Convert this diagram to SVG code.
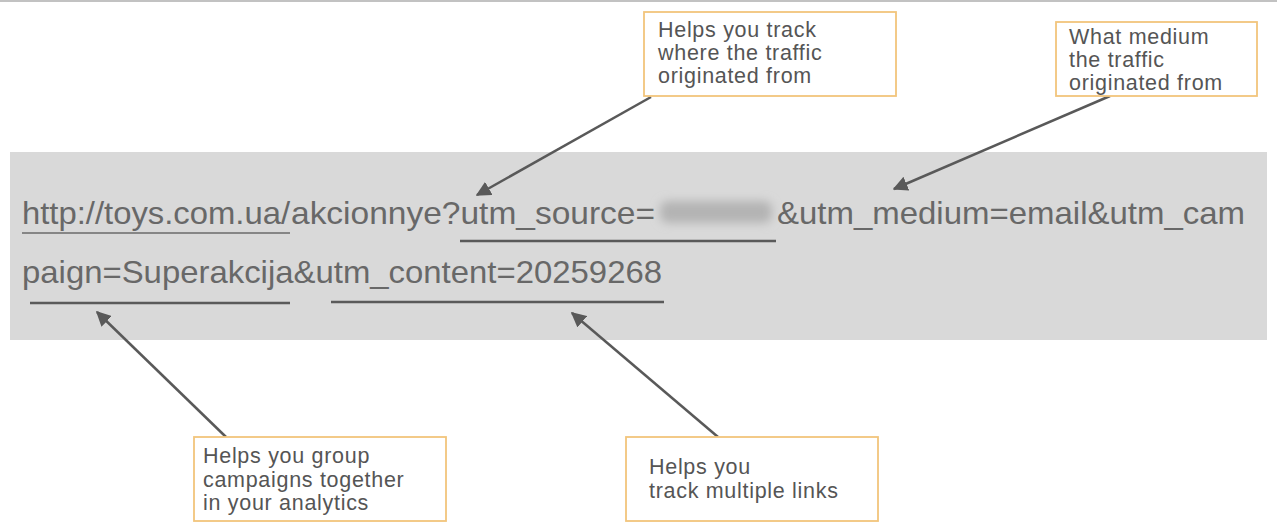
<svg xmlns="http://www.w3.org/2000/svg" width="1277" height="532" viewBox="0 0 1277 532">
<style>
.url{font-family:"Liberation Sans",Arial,sans-serif;font-size:32px;fill:#686868}
.lbl{font-family:"Liberation Sans",Arial,sans-serif;font-size:21.5px;fill:#555;letter-spacing:0.7px}
.box{fill:#fff;stroke:#f2c57c;stroke-width:1.8}
.ul{stroke:#5a5a5a;stroke-width:2.5;fill:none}
.arr{stroke:#595959;stroke-width:2.5;fill:none;marker-end:url(#ah)}
</style>
<defs>
<marker id="ah" viewBox="0 0 10 10" refX="9" refY="5" markerWidth="6" markerHeight="6" orient="auto" markerUnits="strokeWidth">
<path d="M0,0 L10,5 L0,10 z" fill="#595959"/>
</marker>
<filter id="blur" x="-30%" y="-80%" width="160%" height="260%"><feGaussianBlur stdDeviation="5"/></filter>
</defs>
<rect width="1277" height="532" fill="#fff"/>
<line x1="0" y1="1" x2="1277" y2="1" stroke="#c2c2c2" stroke-width="2"/>
<g id="url-band">
<rect x="10" y="152" width="1257" height="188" fill="#d9d9d9"/>
<text class="url" x="22" y="224" textLength="268" lengthAdjust="spacingAndGlyphs">http://toys.com.ua/</text>
<line x1="22" y1="233" x2="290" y2="233" stroke="#6a6a6a" stroke-width="1.6"/>
<text class="url" x="291" y="224" textLength="364" lengthAdjust="spacingAndGlyphs">akcionnye?utm_source=</text>
<g filter="url(#blur)">
<rect x="660" y="201" width="112" height="22" rx="8" fill="#b4b4b4"/>
</g>
<text class="url" x="777" y="224" textLength="468" lengthAdjust="spacingAndGlyphs">&amp;utm_medium=email&amp;utm_cam</text>
<text class="url" x="22" y="283" textLength="640" lengthAdjust="spacingAndGlyphs">paign=Superakcija&amp;utm_content=20259268</text>
<line class="ul" x1="460" y1="241" x2="776" y2="241"/>
<line class="ul" x1="30" y1="303" x2="290" y2="303"/>
<line class="ul" x1="331" y1="302" x2="664" y2="302"/>
</g>
<g id="connectors">
<line class="arr" x1="651" y1="97" x2="477" y2="195"/>
<line class="arr" x1="1110" y1="96" x2="894" y2="189"/>
<line class="arr" x1="226" y1="437" x2="97" y2="312"/>
<line class="arr" x1="718" y1="437" x2="572" y2="313"/>
</g>
<g id="node-source">
<rect class="box" x="644" y="12" width="252" height="84"/>
<text class="lbl" x="658" y="37">Helps you track</text>
<text class="lbl" x="658" y="60">where the traffic</text>
<text class="lbl" x="658" y="83">originated from</text>
</g>
<g id="node-medium">
<rect class="box" x="1056" y="22" width="201" height="74"/>
<text class="lbl" x="1069" y="44">What medium</text>
<text class="lbl" x="1069" y="67">the traffic</text>
<text class="lbl" x="1069" y="90">originated from</text>
</g>
<g id="node-campaign">
<rect class="box" x="194" y="437" width="252" height="84"/>
<text class="lbl" x="203" y="463">Helps you group</text>
<text class="lbl" x="203" y="487">campaigns together</text>
<text class="lbl" x="203" y="510">in your analytics</text>
</g>
<g id="node-content">
<rect class="box" x="626" y="437" width="252" height="84"/>
<text class="lbl" x="649" y="474">Helps you</text>
<text class="lbl" x="649" y="498">track multiple links</text>
</g>
</svg>
